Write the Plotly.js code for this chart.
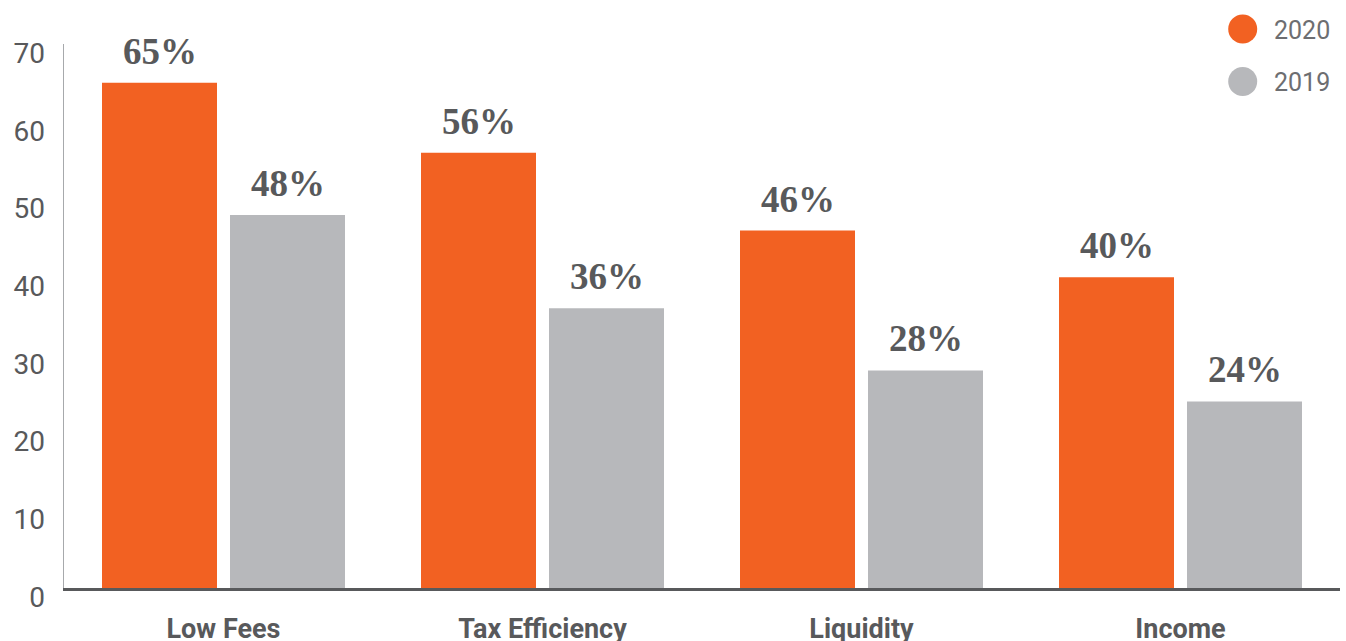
<!DOCTYPE html>
<html>
<head>
<meta charset="utf-8">
<script src="https://cdn.plot.ly/plotly-3.0.1.min.js"></script>
<style>html,body{margin:0;padding:0;background:#fff}#chart{width:1346px;height:641px}</style>
</head>
<body>
<div id="chart"></div>
<script>
const categories = ["Low Fees", "Tax Efficiency", "Liquidity", "Income"];
const values2020 = [65, 56, 46, 40];
const values2019 = [48, 36, 28, 24];
const seriesNames = ["2020", "2019"];
const yTicks = [0, 10, 20, 30, 40, 50, 60, 70];

const ORANGE = "#f26122";
const GRAY = "#b7b8bb";
const TEXT = "#58595b";

const bargap = 0.1975, bargroupgap = 0.1016;
const slot = (1 - bargap) / 2; // category-units per trace slot
const offs = [-slot / 2, slot / 2];

const traces = [
  {type: "bar", name: seriesNames[0], x: categories, y: values2020, marker: {color: ORANGE}, hoverinfo: "none"},
  {type: "bar", name: seriesNames[1], x: categories, y: values2019, marker: {color: GRAY}, hoverinfo: "none"}
];

const annotations = [];
[values2020, values2019].forEach((vals, s) => {
  vals.forEach((v, i) => {
    annotations.push({
      x: i + offs[s], y: v, xref: "x", yref: "y", text: v + "%",
      showarrow: false, yanchor: "bottom", yshift: 9,
      font: {family: "Liberation Serif, DejaVu Serif, serif", size: 37, color: TEXT, weight: "bold"}
    });
  });
});
const legendColors = [ORANGE, GRAY];
const legendY = [29, 81.5];
const shapes = [];
seriesNames.forEach((n, k) => {
  shapes.push({
    type: "circle", xref: "paper", yref: "paper", xsizemode: "pixel", ysizemode: "pixel",
    xanchor: (1242.7 - 64) / 1276, yanchor: 1 + (44 - legendY[k]) / 544,
    x0: -14.5, x1: 14.5, y0: -14.5, y1: 14.5,
    fillcolor: legendColors[k], line: {width: 0}
  });
  annotations.push({
    xref: "paper", yref: "paper", x: (1272 - 64) / 1276, y: 1 + (44 - legendY[k] - 1.5) / 544,
    xanchor: "left", yanchor: "middle", text: n, showarrow: false,
    font: {family: "Roboto, Inter, sans-serif", size: 25, color: "#6d6e71"}
  });
});

const layout = {
  width: 1346, height: 641,
  margin: {l: 64, r: 6, t: 44, b: 53},
  paper_bgcolor: "#fff", plot_bgcolor: "#fff",
  showlegend: false,
  barmode: "group", bargap: bargap, bargroupgap: bargroupgap,
  xaxis: {
    type: "category", range: [-0.5, 3.5], fixedrange: true,
    showline: true, linecolor: TEXT, linewidth: 2.5, showgrid: false, zeroline: false,
    ticks: "", ticklabelstandoff: 15,
    tickfont: {family: "Roboto, Inter, sans-serif", size: 27, color: TEXT, weight: "bold"}
  },
  yaxis: {
    range: [0, 70], tickvals: yTicks, ticktext: yTicks.map(String),
    showline: true, linecolor: "#a7a9ac", linewidth: 1.5, showgrid: false, zeroline: false,
    ticks: "", ticklabelstandoff: 12, ticklabelshift: 9,
    tickfont: {family: "Roboto, Inter, sans-serif", size: 28, color: TEXT}
  },
  annotations: annotations,
  shapes: shapes
};

Plotly.newPlot("chart", traces, layout, {displayModeBar: false, staticPlot: true});
</script>
</body>
</html>
